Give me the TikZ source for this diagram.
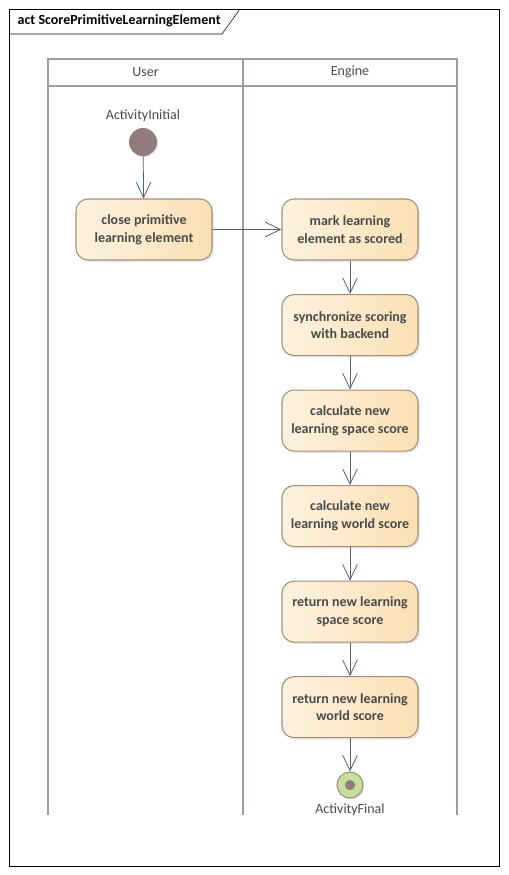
\documentclass[tikz,border=0pt]{standalone}
\usepackage{fontspec}
\setmainfont{Carlito}
\usetikzlibrary{positioning,arrows.meta,shadows}
\definecolor{lanegray}{HTML}{A39A9D}
\definecolor{edgeblue}{HTML}{56607E}
\definecolor{actborder}{HTML}{A68C7C}
\definecolor{actleft}{HTML}{FDF2DF}
\definecolor{actright}{HTML}{FAE0B4}
\definecolor{inidot}{HTML}{907B7E}
\definecolor{fingreen}{HTML}{C6DF9C}
\definecolor{txtgray}{HTML}{4A4A4A}
\tikzset{
  action/.style={draw=actborder, thick, rounded corners=9pt, minimum width=102pt,
    minimum height=45.75pt, align=center, font=\bfseries\fontsize{10.5}{13.3}\selectfont,
    text=txtgray, left color=actleft, right color=actright,
    drop shadow={opacity=0.18, shadow xshift=1.5pt, shadow yshift=-1.5pt}},
  flow/.style={draw=edgeblue, semithick, -{Straight Barb[length=11.5pt,width=11pt]}},
  lane/.style={draw=lanegray, line width=2pt},
  caption/.style={font=\fontsize{10.5}{12}\selectfont, text=txtgray}
}
\begin{document}
\begin{tikzpicture}[x=0.75pt,y=-0.75pt]
\useasboundingbox (0,0) rectangle (508,875);
% frame
\draw[black, thin] (9,9) rectangle (499,866);
\draw[black, thin] (9,34) -- (222,34) -- (240,9);
\node[anchor=west, font=\bfseries\fontsize{10.5}{12}\selectfont] (title) at (13,21) {act ScorePrimitiveLearningElement};

% swimlanes
\draw[lane] (48,815) -- (48,59) -- (457,59) -- (457,815);
\draw[lane] (243,59) -- (243,815);
\draw[lane] (48,86) -- (457,86);
\node[caption] (user) at (145.5,72) {User};
\node[caption] (engine) at (350,72) {Engine};

% initial node
\node[circle, fill=inidot, minimum size=21pt, inner sep=0pt,
  drop shadow={opacity=0.2, shadow xshift=1pt, shadow yshift=-1pt}] (start) at (143,142) {};
\node[caption, above=1pt of start] (startlbl) {ActivityInitial};

% actions
\node[action] (close) at (144,229.5) {close primitive\\learning element};
\node[action] (mark) at (350,229.5) {mark learning\\element as scored};
\node[action, below=25.1pt of mark] (sync) {synchronize scoring\\with backend};
\node[action, below=25.1pt of sync] (calcspace) {calculate new\\learning space score};
\node[action, below=25.1pt of calcspace] (calcworld) {calculate new\\learning world score};
\node[action, below=25.1pt of calcworld] (retspace) {return new learning\\space score};
\node[action, below=25.1pt of retspace] (retworld) {return new learning\\world score};

% final node
\node[circle, draw=actborder, thick, fill=fingreen, minimum size=19.5pt, inner sep=0pt,
  drop shadow={opacity=0.2, shadow xshift=1pt, shadow yshift=-1pt},
  below=25pt of retworld] (final) {};
\fill[inidot] (final) circle (3.8pt);
\node[caption, below=0pt of final] (finallbl) {ActivityFinal};

% flows
\draw[flow] (start) -- (close);
\draw[flow] (close) -- (mark);
\draw[flow] (mark) -- (sync);
\draw[flow] (sync) -- (calcspace);
\draw[flow] (calcspace) -- (calcworld);
\draw[flow] (calcworld) -- (retspace);
\draw[flow] (retspace) -- (retworld);
\draw[flow] (retworld) -- (final);
\end{tikzpicture}
\end{document}
